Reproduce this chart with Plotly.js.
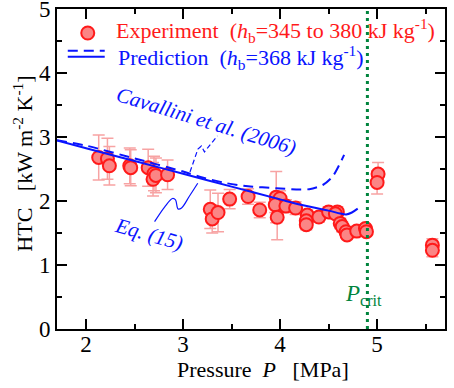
<!DOCTYPE html>
<html>
<head>
<meta charset="utf-8">
<script src="https://cdn.plot.ly/plotly-3.0.1.min.js"></script>
<style>html,body{margin:0;padding:0;background:#fff;}#chart{width:454px;height:388px;}</style>
</head>
<body>
<div id="chart"></div>
<script>
// Experimental data: pressure [MPa], HTC [kW m-2 K-1], uncertainty
const pressure = [2.13, 2.22, 2.24, 2.45, 2.46, 2.64, 2.70, 2.69, 2.72, 2.84,
  3.28, 3.30, 3.36, 3.48, 3.67, 3.79, 3.96, 4.00, 3.95, 3.97, 4.06, 4.16,
  4.28, 4.27, 4.27, 4.40, 4.50, 4.59, 4.57, 4.62, 4.64, 4.68, 4.69, 4.79, 4.88, 4.89,
  5.01, 5.00, 5.57, 5.57];
const htc = [2.68, 2.66, 2.55, 2.55, 2.52, 2.52, 2.43, 2.34, 2.40, 2.41,
  1.87, 1.72, 1.82, 2.03, 2.07, 1.86, 2.06, 2.04, 1.94, 1.745, 1.92, 1.89,
  1.78, 1.69, 1.63, 1.75, 1.83, 1.83, 1.80, 1.65, 1.60, 1.52, 1.47, 1.53, 1.57, 1.52,
  2.42, 2.29, 1.31, 1.23];
const htcErr = [0.35, 0.32, 0.30, 0.28, 0.28, 0.29, 0.27, 0.26, 0.27, 0.23,
  0.30, 0.22, 0.30, 0.15, 0.12, 0.12, 0.40, 0.12, 0.12, 0.35, 0.10, 0.10,
  0.08, 0.08, 0.08, 0.08, 0.08, 0.08, 0.08, 0.08, 0.08, 0.08, 0.06, 0.06, 0.06, 0.06,
  0.18, 0.18, 0.10, 0.10];
// Prediction, Eq. (15)
const eqP   = [1.7, 2.0, 2.5, 3.0, 3.5, 4.0, 4.2, 4.5, 4.62, 4.68, 4.74, 4.80];
const eqHTC = [2.945, 2.825, 2.625, 2.425, 2.225, 2.025, 1.945, 1.85, 1.805, 1.79, 1.82, 1.88];
// Prediction, Cavallini et al. (2006)
const cavP   = [1.7, 2.0, 2.5, 3.0, 3.17, 3.44, 3.67, 3.96, 4.2, 4.3, 4.44, 4.54, 4.625, 4.66];
const cavHTC = [2.95, 2.865, 2.665, 2.46, 2.38, 2.28, 2.23, 2.20, 2.18, 2.185, 2.25, 2.38, 2.61, 2.72];
const pCrit = 4.9;
// Leader lines for labels
const cavLeaderX = [3.071, 3.153, 3.189, 3.220, 3.251, 3.354];
const cavLeaderY = [2.453, 2.8125, 2.859, 2.766, 2.828, 3.016];
const eqLeaderX = [2.706, 2.809, 2.891, 2.922, 2.948, 2.984, 3.066, 3.151];
const eqLeaderY = [1.677, 1.906, 2.039, 2.016, 1.875, 1.891, 2.078, 2.277];

const BLUE = '#0a14ff';
const RED = '#ff1a1a';
const GREEN = '#00843d';

function sf(size, color) {
  return {family: 'Liberation Serif', size: size, color: color};
}

const traces = [
  {
    x: pressure, y: htc, type: 'scatter', mode: 'markers', showlegend: false,
    marker: {size: 13, color: '#fb8585', line: {color: RED, width: 2}},
    error_y: {type: 'data', array: htcErr, visible: true, color: '#f7a3a3', thickness: 1.5, width: 6}
  },
  {
    x: eqP, y: eqHTC, type: 'scatter', mode: 'lines', showlegend: false,
    line: {color: BLUE, width: 2, shape: 'spline', smoothing: 0.8}
  },
  {
    x: cavP, y: cavHTC, type: 'scatter', mode: 'lines', showlegend: false,
    line: {color: BLUE, width: 2, dash: '10px,6px', shape: 'spline', smoothing: 0.8}
  },
  {
    x: cavLeaderX, y: cavLeaderY, type: 'scatter', mode: 'lines', showlegend: false,
    line: {color: BLUE, width: 1.2, dash: '5px,3px'}
  },
  {
    x: eqLeaderX, y: eqLeaderY, type: 'scatter', mode: 'lines', showlegend: false,
    line: {color: BLUE, width: 1.2, shape: 'spline', smoothing: 1}
  },
  {
    x: [pCrit, pCrit], y: [0, 5], type: 'scatter', mode: 'lines', showlegend: false,
    line: {color: GREEN, width: 3, dash: '3px,4px'}
  }
];

const layout = {
  width: 454, height: 388,
  margin: {l: 57, r: 9, t: 9, b: 59},
  showlegend: false,
  xaxis: {
    range: [1.7, 5.7], dtick: 1, tick0: 0,
    showline: true, linecolor: '#000', linewidth: 2, mirror: 'ticks',
    ticks: 'inside', ticklen: 10, tickwidth: 2, tickcolor: '#000',
    showgrid: false, zeroline: false, ticklabeloverflow: 'allow', ticklabelstandoff: -7,
    tickfont: sf(23, '#000'),
    minor: {ticks: 'inside', ticklen: 5, tickwidth: 2, tickcolor: '#000', dtick: 0.5, showgrid: false}
  },
  yaxis: {
    range: [0, 5], dtick: 1, tick0: 0,
    showline: true, linecolor: '#000', linewidth: 2, mirror: 'ticks',
    ticks: 'inside', ticklen: 10, tickwidth: 2, tickcolor: '#000',
    showgrid: false, zeroline: false, ticklabeloverflow: 'allow',
    tickfont: sf(23, '#000'),
    minor: {ticks: 'inside', ticklen: 5, tickwidth: 2, tickcolor: '#000', dtick: 0.5, showgrid: false}
  },
  shapes: [
    {type: 'circle', xref: 'x', yref: 'y', xsizemode: 'pixel', ysizemode: 'pixel',
     xanchor: 2.017, yanchor: 4.625, x0: -6.5, x1: 6.5, y0: -6.5, y1: 6.5,
     fillcolor: '#fb8585', line: {color: RED, width: 2}},
    {type: 'line', xref: 'x', yref: 'y', x0: 1.811, x1: 2.192, y0: 4.348, y1: 4.348,
     line: {color: BLUE, width: 2, dash: '10px,6px'}},
    {type: 'line', xref: 'x', yref: 'y', x0: 1.811, x1: 2.192, y0: 4.255, y1: 4.255,
     line: {color: BLUE, width: 2}}
  ],
  annotations: [
    {xref: 'x', yref: 'y', x: 2.285, y: 4.66, xanchor: 'left', yanchor: 'middle', showarrow: false,
     text: 'Experiment  (<i>h</i><sub>b</sub>=345 to 380 kJ kg<sup>-1</sup>)',
     font: sf(22, RED)},
    {xref: 'x', yref: 'y', x: 2.305, y: 4.25, xanchor: 'left', yanchor: 'middle', showarrow: false,
     text: 'Prediction  (<i>h</i><sub>b</sub>=368 kJ kg<sup>-1</sup>)',
     font: sf(22, BLUE)},
    {xref: 'x', yref: 'y', x: 3.24, y: 3.25, showarrow: false, textangle: 17,
     text: '<i>Cavallini et al. (2006)</i>', font: sf(21, BLUE)},
    {xref: 'x', yref: 'y', x: 2.646, y: 1.484, showarrow: false, textangle: 16,
     text: '<i>Eq. (15)</i>', font: sf(21, BLUE)},
    {xref: 'x', yref: 'y', x: 4.645, y: 0.53, xanchor: 'left', yanchor: 'middle', showarrow: false,
     text: '<i>P</i><sub>crit</sub>', font: sf(23, GREEN)},
    {xref: 'paper', yref: 'paper', x: 0.532, y: -0.125, xanchor: 'center', yanchor: 'middle', showarrow: false,
     text: 'Pressure  <i>P</i>   [MPa]', font: sf(22, '#000')},
    {xref: 'paper', yref: 'paper', x: -0.09, y: 0.517, xanchor: 'center', yanchor: 'middle', showarrow: false, textangle: -90,
     text: 'HTC   [kW m<sup>-2</sup> K<sup>-1</sup>]', font: sf(22, '#000')}
  ]
};

Plotly.newPlot('chart', traces, layout, {staticPlot: true});
</script>
</body>
</html>
